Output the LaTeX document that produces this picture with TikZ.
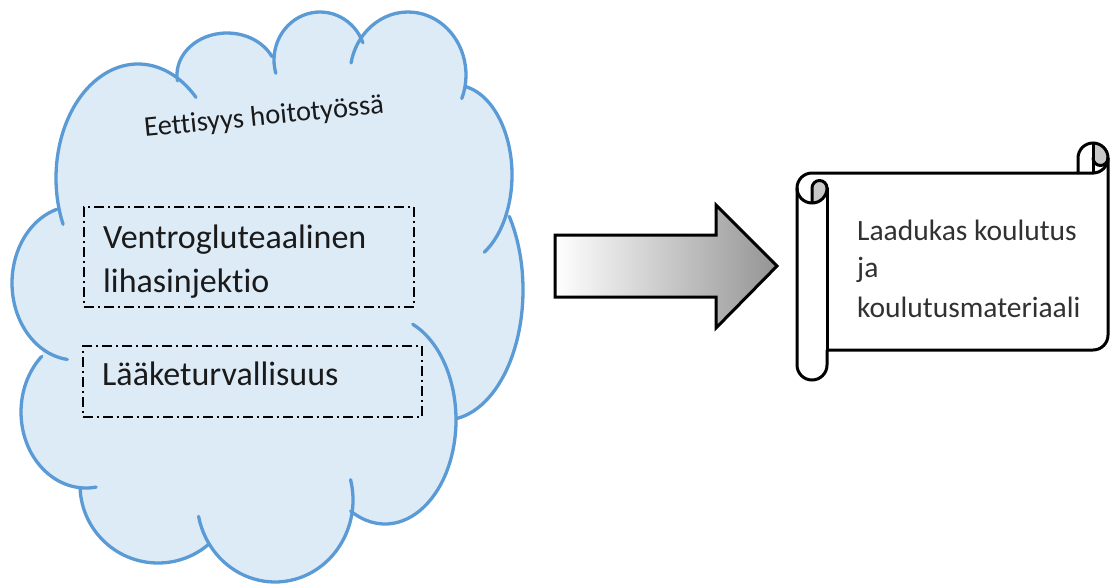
\documentclass[tikz,border=0pt]{standalone}
\usepackage{fontspec}
\setmainfont{Carlito}[Ligatures={NoCommon,NoContextual}]
\definecolor{cloudfill}{RGB}{221,235,247}
\definecolor{cloudline}{RGB}{91,155,213}
\definecolor{txt}{RGB}{26,26,26}
\definecolor{rollgray}{RGB}{200,200,200}
\tikzset{
  cloudstroke/.style={draw=cloudline, line width=3.3pt, line cap=round, line join=round},
  dashbox/.style={draw=black, line width=1.5pt, dash pattern=on 10pt off 4pt on 2pt off 4pt, inner sep=0pt, outer sep=0pt},
  bigtext/.style={anchor=base west, inner sep=0pt, text=txt, font=\fontsize{34}{40}\selectfont},
  midtext/.style={anchor=base west, inner sep=0pt, text=txt, font=\fontsize{28.5}{33}\selectfont},
  scrolltext/.style={anchor=base west, inner sep=0pt, text=txt!90, font=\fontsize{29.5}{35}\selectfont},
  scrollline/.style={draw=black, line width=3pt, line join=round, line cap=round},
}
\begin{document}
\begin{tikzpicture}[x=1pt,y=1pt,yscale=-1]
\useasboundingbox (0,0) rectangle (1110,584);

% ---------- cloud fill: puff ellipses + inner polygon ----------
\fill[cloudfill]
  (138,178) ellipse[x radius=82, y radius=114]
  (227,75) ellipse[x radius=50, y radius=42]
  (320,60) ellipse[x radius=46, y radius=48]
  (408,75) ellipse[x radius=58, y radius=63]
  (455,175) ellipse[x radius=57, y radius=90]
  (445,290) ellipse[x radius=78, y radius=130]
  (385,420) ellipse[x radius=71, y radius=104]
  (275,500) ellipse[x radius=78, y radius=82]
  (158,485) ellipse[x radius=78, y radius=78]
  (86,412) ellipse[x radius=65, y radius=76]
  (75,283) ellipse[x radius=63, y radius=77];
\fill[cloudfill] (59,210) -- (177,81) -- (275,55) -- (363,43) -- (465,83) -- (506,220)
  -- (456,416) -- (351,510) -- (207,541) -- (81,488) -- (42,356) -- cycle;

% ---------- cloud outline (puff arcs with inner hooks) ----------
\draw[cloudstroke]
  (138,178) ++(156:82 and 114) arc[start angle=156, end angle=315, x radius=82, y radius=114]
  (227,75) ++(172:50 and 42) arc[start angle=172, end angle=334, x radius=50, y radius=42]
  (320,60) ++(164:46 and 48) arc[start angle=164, end angle=339, x radius=46, y radius=48]
  (408,75) ++(191:58 and 63) arc[start angle=191, end angle=382, x radius=58, y radius=63]
  (455,175) ++(280:57 and 90) arc[start angle=280, end angle=419, x radius=57, y radius=90]
  (445,290) ++(325.5:78 and 130) arc[start angle=325.5, end angle=441.7, x radius=78, y radius=130]
  (385,420) ++(293:71 and 104) arc[start angle=293, end angle=479, x radius=71, y radius=104]
  (275,500) ++(-14.4:78 and 82) arc[start angle=-14.4, end angle=168.5, x radius=78, y radius=82]
  (158,485) ++(49:78 and 78) arc[start angle=49, end angle=178, x radius=78, y radius=78]
  (86,412) ++(81:65 and 76) arc[start angle=81, end angle=227, x radius=65, y radius=76]
  (75,283) ++(97:63 and 77) arc[start angle=97, end angle=253, x radius=63, y radius=77];

% ---------- texts in cloud ----------
\node[midtext, rotate=5.7] (ethics) at (145,137) {Eettisyys hoitotyössä};
\node[dashbox, minimum width=330pt, minimum height=100pt] (box1) at (249,257) {};
\node[dashbox, minimum width=339pt, minimum height=71pt] (box2) at (252.5,381.5) {};
\node[bigtext] (vg1) at (103,248) {Ventrogluteaalinen};
\node[bigtext] (vg2) at (103,292) {lihasinjektio};
\node[bigtext] (lt) at (102,385) {Lääketurvallisuus};

% ---------- block arrow ----------
\shadedraw[left color=white, right color=black!42, draw=black, line width=3pt, line join=miter]
  (555,235) -- (716,235) -- (716,205) -- (777,266) -- (716,328) -- (716,297) -- (555,297) -- cycle;

% ---------- scroll ----------
\fill[white] (797,188) arc[start angle=180,end angle=270,radius=15] -- (1078,173) -- (1078,158)
  arc[start angle=180,end angle=360,radius=15] -- (1108,335) arc[start angle=0,end angle=90,radius=15]
  -- (827,350) -- (827,365) arc[start angle=0,end angle=180,radius=15] -- cycle;
\fill[rollgray] (812,203) arc[start angle=90,end angle=0,radius=15] arc[start angle=0,end angle=-180,radius=7.5] -- cycle;
\fill[rollgray] (1093,143) arc[start angle=270,end angle=360,radius=15] arc[start angle=0,end angle=180,radius=7.5] -- cycle;
\draw[scrollline] (797,188) arc[start angle=180,end angle=270,radius=15] -- (1078,173) -- (1078,158)
  arc[start angle=180,end angle=360,radius=15] -- (1108,335) arc[start angle=0,end angle=90,radius=15]
  -- (827,350) -- (827,365) arc[start angle=0,end angle=180,radius=15] -- cycle;
\draw[scrollline] (1078,173) -- (1093,173) arc[start angle=90,end angle=0,radius=15];
\draw[scrollline] (1093,143) -- (1093,173);
\draw[scrollline] (1108,158) arc[start angle=0,end angle=180,radius=7.5];
\draw[scrollline] (812,203) -- (812,188) arc[start angle=180,end angle=360,radius=7.5] arc[start angle=0,end angle=180,radius=15];
\draw[scrollline] (827,188) -- (827,350);

\node[scrolltext] (s1) at (857,240) {Laadukas koulutus};
\node[scrolltext] (s2) at (857,277) {ja};
\node[scrolltext] (s3) at (857,317) {koulutusmateriaali};
\end{tikzpicture}
\end{document}
